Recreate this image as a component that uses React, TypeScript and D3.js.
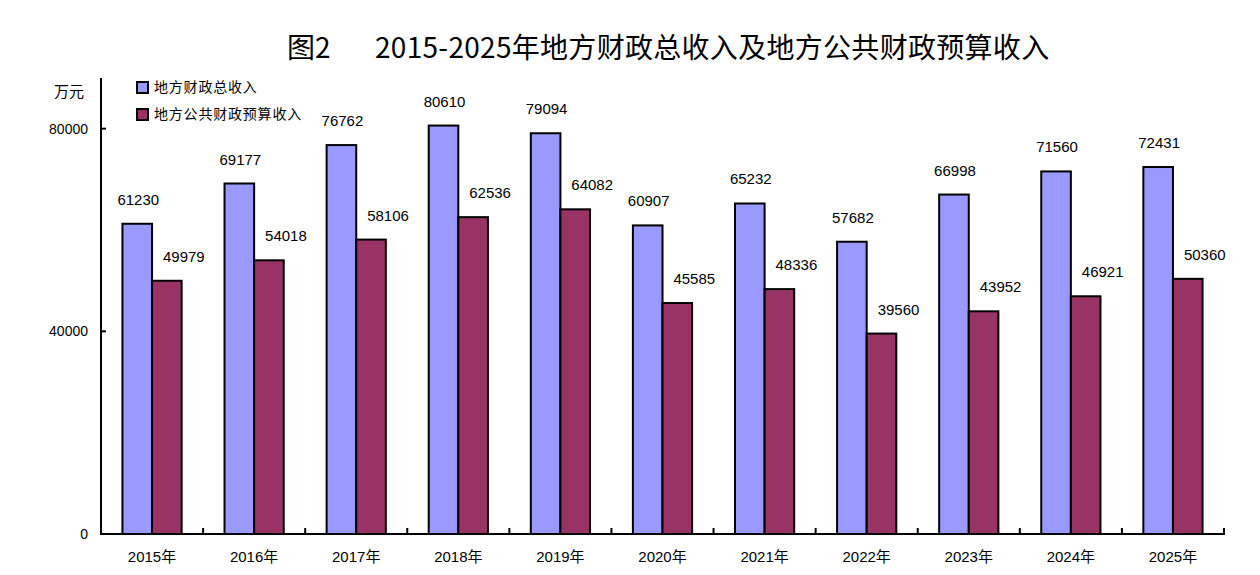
import * as d3 from 'd3';

// data (unit: 万元)
const years = ['2015年', '2016年', '2017年', '2018年', '2019年', '2020年', '2021年', '2022年', '2023年', '2024年', '2025年'];
const totalRevenue = [61230, 69177, 76762, 80610, 79094, 60907, 65232, 57682, 66998, 71560, 72431];
const budgetRevenue = [49979, 54018, 58106, 62536, 64082, 45585, 48336, 39560, 43952, 46921, 50360];
const seriesNames = ['地方财政总收入', '地方公共财政预算收入'];
const seriesColors = ['#9999FF', '#993366'];
const yTicks = [0, 40000, 80000];

const W = 1260;
const H = 575;
const numFont = '"Liberation Sans", "Noto Sans CJK SC", sans-serif';
const cjkFont = '"Noto Sans CJK SC", "Liberation Sans", sans-serif';

export default function App() {
  const x = d3.scaleBand<string>().domain(years).range([101, 1224]);
  const y = d3.scaleLinear().domain([0, 90000]).range([534, 78]);
  const bw = x.bandwidth();
  const inner = d3.scaleBand<string>().domain(seriesNames).range([bw * 0.21, bw * 0.79]);
  const series = [totalRevenue, budgetRevenue];
  const labelShift = [1, 17];

  return (
    <div style={{ position: 'absolute', left: 0, top: 0 }}>
      <svg width={W} height={H} style={{ display: 'block', background: '#fff' }}>
        {/* title */}
        <text x={287} y={58} fontFamily={cjkFont} fontSize={28} fontWeight={400} fill="#000">
          图2
        </text>
        <text x={375} y={58} fontFamily={cjkFont} fontSize={28} fontWeight={400} letterSpacing={0.3} fill="#000">
          2015-2025年地方财政总收入及地方公共财政预算收入
        </text>

        {/* unit */}
        <text x={54} y={97} fontFamily={cjkFont} fontSize={15} fill="#000">万元</text>

        {/* bars */}
        {series.map((vals, si) =>
          vals.map((v, i) => (
            <rect
              key={`b${si}-${i}`}
              x={(x(years[i]) ?? 0) + (inner(seriesNames[si]) ?? 0)}
              y={y(v)}
              width={inner.bandwidth()}
              height={y(0) - y(v)}
              fill={seriesColors[si]}
              stroke="#000"
              strokeWidth={2}
            />
          ))
        )}

        {/* value labels */}
        {series.map((vals, si) =>
          vals.map((v, i) => (
            <text
              key={`l${si}-${i}`}
              x={(x(years[i]) ?? 0) + (inner(seriesNames[si]) ?? 0) + inner.bandwidth() / 2 + labelShift[si]}
              y={y(v) - 19}
              textAnchor="middle"
              fontFamily={numFont}
              fontSize={15}
              fill="#000"
            >
              {v}
            </text>
          ))
        )}

        {/* y axis */}
        <line x1={101} x2={101} y1={y(90000)} y2={y(0) + 1} stroke="#000" strokeWidth={2} />
        {yTicks.map(t => (
          <g key={`yt${t}`}>
            <line x1={101} x2={106} y1={y(t)} y2={y(t)} stroke="#000" strokeWidth={2} />
            <text x={88} y={y(t) + 5} textAnchor="end" fontFamily={numFont} fontSize={14} fill="#000">
              {t}
            </text>
          </g>
        ))}

        {/* x axis */}
        <line x1={100} x2={1225} y1={y(0)} y2={y(0)} stroke="#000" strokeWidth={2} />
        {years.map(yr => (
          <g key={`xt${yr}`}>
            <line
              x1={(x(yr) ?? 0) + bw}
              x2={(x(yr) ?? 0) + bw}
              y1={y(0)}
              y2={y(0) - 6}
              stroke="#000"
              strokeWidth={2}
            />
            <text
              x={(x(yr) ?? 0) + bw / 2}
              y={562}
              textAnchor="middle"
              fontFamily={numFont}
              fontSize={15}
              fill="#000"
            >
              {yr}
            </text>
          </g>
        ))}

        {/* legend */}
        {seriesNames.map((name, i) => (
          <g key={`lg${i}`} transform={`translate(137, ${82 + i * 27})`}>
            <rect x={0} y={0} width={11} height={11} fill={seriesColors[i]} stroke="#000" strokeWidth={2} />
            <text x={17} y={10} fontFamily={cjkFont} fontSize={14} letterSpacing={0.8} fill="#000">
              {name}
            </text>
          </g>
        ))}
      </svg>
    </div>
  );
}
